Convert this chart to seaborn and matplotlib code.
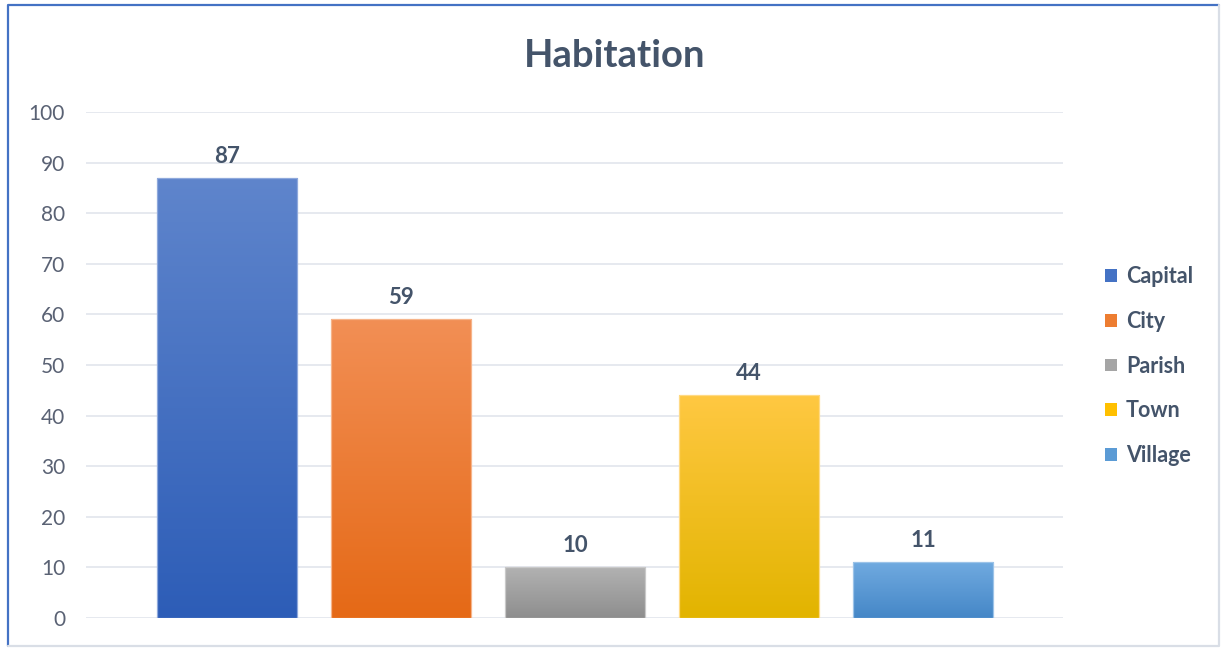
import numpy as np
import pandas as pd
import matplotlib
matplotlib.use("Agg")
import matplotlib.pyplot as plt
from matplotlib.colors import to_rgb
from matplotlib.patches import Patch
from matplotlib.lines import Line2D
import seaborn as sns

# Data
categories = ["Capital", "City", "Parish", "Town", "Village"]
values = [87, 59, 10, 44, 11]

# Series colours: legend swatch, gradient top, gradient bottom
swatch_colors = ["#4472C4", "#ED7D31", "#A5A5A5", "#FFC000", "#5B9BD5"]
top_colors = ["#5F85CC", "#F28F55", "#B2B2B2", "#FFC842", "#70AAE0"]
bottom_colors = ["#2D5DB7", "#E56916", "#8E8E8E", "#E2B400", "#4587C7"]
edge_colors = ["#8FA9DC", "#F6B48A", "#C9C9C9", "#FFDA85", "#9CC3E8"]

title = "Habitation"
y_ticks = list(range(0, 101, 10))

sns.set_theme(style="white")
plt.rcParams["font.family"] = ["Lato", "DejaVu Sans"]

df = pd.DataFrame({"category": categories, "value": values})

fig = plt.figure(figsize=(12.21, 6.48), dpi=100)
ax = fig.add_axes([0.0704, 0.0463, 0.8002, 0.7809])

sns.barplot(data=df, x="category", y="value", hue="category",
            palette=swatch_colors, width=0.805, legend=False, ax=ax,
            saturation=1)

bars = list(ax.patches)

# Vertical gradient fill inside each bar
for patch, c_top, c_bot, c_edge in zip(bars, top_colors, bottom_colors, edge_colors):
    x0, y0 = patch.get_x(), patch.get_y()
    w, h = patch.get_width(), patch.get_height()
    t = np.linspace(0, 1, 256)[:, None, None]
    grad = (1 - t) * np.array(to_rgb(c_top)) + t * np.array(to_rgb(c_bot))
    grad = np.repeat(grad, 2, axis=1)
    img = ax.imshow(grad, extent=[x0, x0 + w, y0, y0 + h], origin="upper",
                    aspect="auto", zorder=2, interpolation="bilinear")
    img.set_clip_path(patch)
    patch.set_facecolor("none")
    patch.set_edgecolor(c_edge)
    patch.set_linewidth(0.9)
    patch.set_zorder(3)

    # Value label above the bar
    ax.annotate(f"{h:.0f}", xy=(x0 + w / 2, y0 + h), xytext=(0, 8),
                textcoords="offset points", ha="center", va="bottom",
                fontsize=16, fontweight="bold", color="#44546A")

ax.set_xlim(-0.81, 4.805)
ax.set_ylim(0, 100)
ax.set_yticks(y_ticks)
ax.set_xticks([])
ax.set_xlabel("")
ax.set_ylabel("")
ax.yaxis.grid(True, color="#E1E5EC", linewidth=1.2, zorder=0)
ax.set_axisbelow(True)
for s in ax.spines.values():
    s.set_visible(False)
ax.tick_params(axis="y", length=0, pad=15, labelsize=15, labelcolor="#5A6274")

fig.text(0.503, 0.913, title, ha="center", va="center", fontsize=27.5,
         fontweight="bold", color="#44546A")

handles = [Patch(facecolor=c, edgecolor="none") for c in swatch_colors]
leg = fig.legend(handles, categories, loc="center left",
                 bbox_to_anchor=(0.905, 0.435), frameon=False,
                 borderpad=0, borderaxespad=0, handlelength=0.55,
                 handleheight=0.55, handletextpad=0.42, labelspacing=1.1,
                 prop={"size": 15.5, "weight": "bold"})
for txt in leg.get_texts():
    txt.set_color("#44546A")

# Chart frame
W, H = 1221, 648
fx = lambda px: px / W
fy = lambda py: 1 - py / H
fig.add_artist(Line2D([fx(8), fx(8), fx(1219)], [fy(646), fy(5), fy(5)],
                      color="#4472C4", linewidth=1.6, transform=fig.transFigure))
fig.add_artist(Line2D([fx(1219), fx(1219), fx(8)], [fy(5), fy(646), fy(646)],
                      color="#D9DEE6", linewidth=1.6, transform=fig.transFigure))

fig.savefig("out.png", dpi=100)
